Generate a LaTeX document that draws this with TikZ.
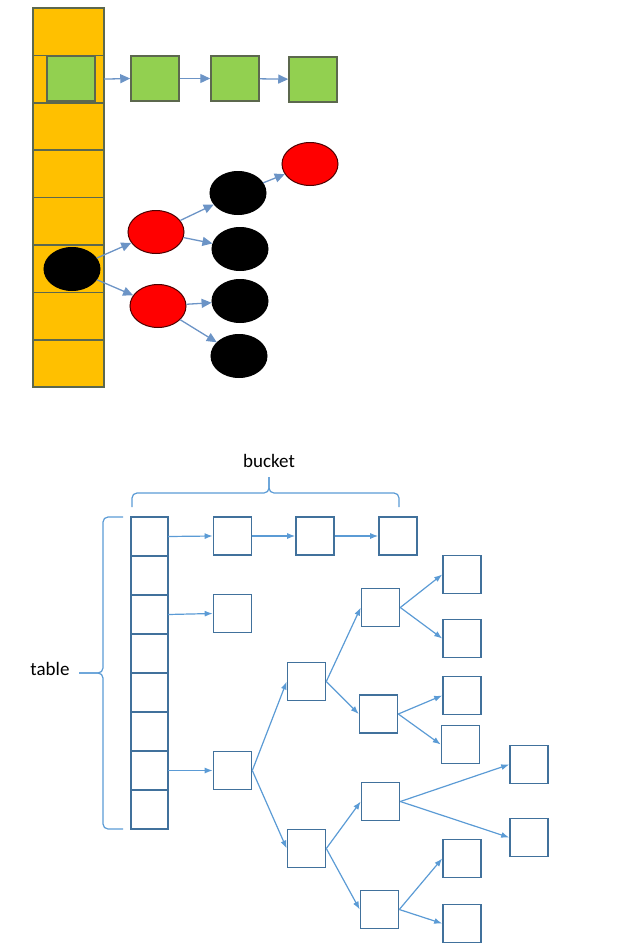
\documentclass[tikz,border=0pt]{standalone}
\usepackage{fontspec}
\setmainfont{Carlito}
\usetikzlibrary{arrows.meta,shapes.geometric}

\definecolor{slotorange}{HTML}{FFC000}
\definecolor{entrygreen}{HTML}{92D050}
\definecolor{olivegray}{RGB}{92,104,78}
\definecolor{steelblue}{RGB}{108,148,198}
\definecolor{boxblue}{RGB}{65,113,156}
\definecolor{linkblue}{RGB}{91,155,213}

\begin{document}
\begin{tikzpicture}[
  x=1pt,y=-1pt,
  slot/.style={draw=olivegray,line width=1.5pt,fill=slotorange,minimum width=71pt,minimum height=47.4pt,inner sep=0pt,outer sep=0pt},
  entry/.style={draw=olivegray,line width=1.5pt,fill=entrygreen,minimum width=48pt,minimum height=45pt,inner sep=0pt},
  rbnode/.style={ellipse,line width=1pt,minimum width=56pt,minimum height=43pt,inner sep=0pt},
  rednode/.style={rbnode,draw=black!70!red,fill=red},
  blacknode/.style={rbnode,draw=black,fill=black},
  box/.style={draw=boxblue,line width=1.6pt,minimum size=38pt,inner sep=0pt},
  cell/.style={box,minimum width=37pt,minimum height=39pt,outer sep=0pt},
  toparrow/.style={-{Triangle[length=10pt,width=9pt]},draw=steelblue,line width=1.3pt},
  arrow/.style={-{Latex[length=8pt,width=6pt]},draw=linkblue,line width=1.2pt},
  brace/.style={draw=linkblue,line width=1.2pt,rounded corners=5pt},
  label/.style={font=\fontsize{19}{22}\selectfont}
]
\useasboundingbox (0,0) rectangle (630,950);

% array with chain and red-black tree
\foreach \i in {1,...,8}
  \node[slot] (t\i) at (68.5,{8+47.4*(\i-0.5)}) {};
\node[entry] (g1) at (71,78.5) {};
\node[entry] (g2) at (155,78.5) {};
\node[entry] (g3) at (235,78.5) {};
\node[entry] (g4) at (313,79.5) {};
\draw[toparrow] (t2.east) -- (g2.west);
\draw[toparrow] (g2) -- (g3);
\draw[toparrow] (g3) -- (g4);

\node[blacknode] (root) at (72,269) {};
\node[rednode] (ra) at (156,232) {};
\node[rednode] (rb) at (158,306) {};
\node[blacknode] (ba) at (238,193) {};
\node[blacknode] (bb) at (240,249) {};
\node[blacknode] (bc) at (240,301) {};
\node[blacknode] (bd) at (239,356) {};
\node[rednode] (rc) at (310,164) {};
\draw[toparrow] (root) -- (ra);
\draw[toparrow] (root) -- (rb);
\draw[toparrow] (ra) -- (ba);
\draw[toparrow] (ra) -- (bb);
\draw[toparrow] (rb) -- (bc);
\draw[toparrow] (rb) -- (bd);
\draw[toparrow] (ba) -- (rc);

% table / bucket sketch
\foreach \i in {1,...,8}
  \node[cell] (c\i) at (149.5,{517+39*(\i-0.5)}) {};
\node[box] (l1) at (232.5,536) {};
\node[box] (l2) at (315,536) {};
\node[box] (l3) at (398,536) {};
\node[box] (s1) at (232.5,613.5) {};
\node[box] (tr) at (232.5,770.5) {};
\node[box] (b1) at (306.5,681.5) {};
\node[box] (b2) at (306.5,848.5) {};
\node[box] (m1) at (380.5,607.5) {};
\node[box] (m2) at (378.5,714) {};
\node[box] (m3) at (380.5,801.5) {};
\node[box] (m4) at (379.5,909.5) {};
\node[box] (k1) at (462,574.5) {};
\node[box] (k2) at (462,638.5) {};
\node[box] (k3) at (462,695.5) {};
\node[box] (k4) at (460.5,744.5) {};
\node[box] (k5) at (462,858.5) {};
\node[box] (k6) at (462,923.5) {};
\node[box] (e1) at (529,764.5) {};
\node[box] (e2) at (529,837.5) {};

\draw[arrow] (c1.east) -- (l1.west);
\draw[arrow] (l1.east) -- (l2.west);
\draw[arrow] (l2.east) -- (l3.west);
\draw[arrow] (c3.east) -- (s1.west);
\draw[arrow] (c7.east) -- (tr.west);
\draw[arrow] (tr.east) -- (b1.west);
\draw[arrow] (tr.east) -- (b2.west);
\draw[arrow] (b1.east) -- (m1.west);
\draw[arrow] (b1.east) -- (m2.west);
\draw[arrow] (b2.east) -- (m3.west);
\draw[arrow] (b2.east) -- (m4.west);
\draw[arrow] (m1.east) -- (k1.west);
\draw[arrow] (m1.east) -- (k2.west);
\draw[arrow] (m2.east) -- (k3.west);
\draw[arrow] (m2.east) -- (k4.west);
\draw[arrow] (m3.east) -- (e1.west);
\draw[arrow] (m3.east) -- (e2.west);
\draw[arrow] (m4.east) -- (k5.west);
\draw[arrow] (m4.east) -- (k6.west);

% braces
\node[label] (bucket) at (269,461) {bucket};
\draw[brace] (132,507) -- (132,493) -- (269,493) -- (269,477);
\draw[brace] (399,507) -- (399,493) -- (269,493) -- (269,477);
\node[label] (table) at (50,669) {table};
\draw[brace] (123,517) -- (103,517) -- (103,673) -- (79,673);
\draw[brace] (123,829) -- (103,829) -- (103,673) -- (79,673);
\end{tikzpicture}
\end{document}
